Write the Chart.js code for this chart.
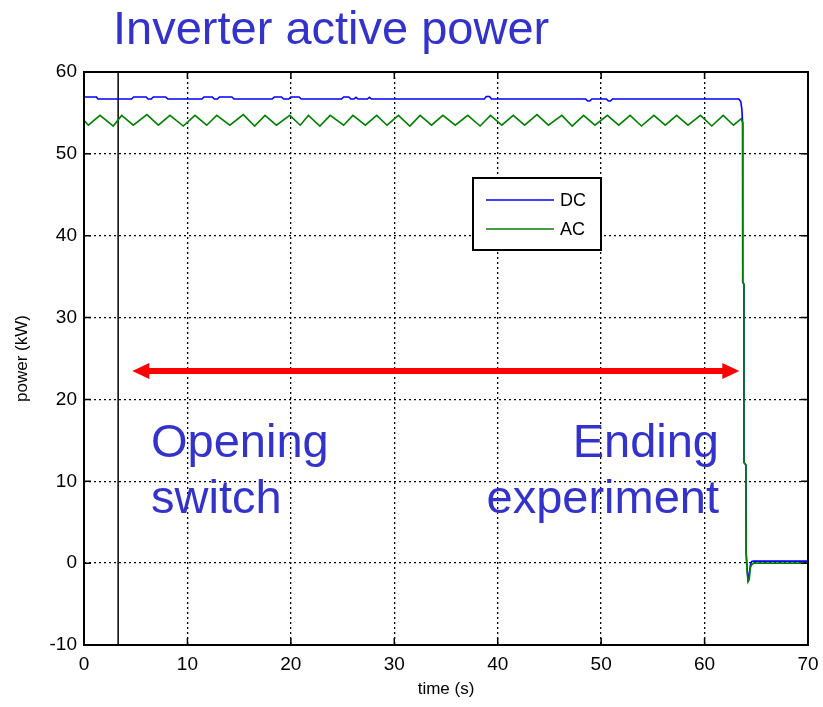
<!DOCTYPE html>
<html>
<head>
<meta charset="utf-8">
<title>Inverter active power</title>
<script src="https://cdn.jsdelivr.net/npm/chart.js@4.4.1/dist/chart.umd.min.js"></script>
<style>
  body { margin: 0; background: #fff; }
  canvas { display: block; }
</style>
</head>
<body>
<canvas id="chart" width="823" height="707"></canvas>
<script>
const chartTitle = 'Inverter active power'
const xTitle = 'time (s)'
const yTitle = 'power (kW)'
const xTicks = [0, 10, 20, 30, 40, 50, 60, 70]
const yTicks = [-10, 0, 10, 20, 30, 40, 50, 60]

// DC side power
const dcTime = [0, 1.2, 1.35, 4.6, 4.8, 6.0, 6.2, 6.5, 6.7, 7.9, 8.1, 11.4, 11.6, 12.4, 12.6, 12.9, 13.1, 14.3, 14.5,
  18.2, 18.4, 19.1, 19.3, 19.8, 20.0, 20.8, 21.0, 24.9, 25.1, 25.6, 25.8, 26.1, 26.3, 26.5, 27.4, 27.6, 27.8,
  38.7, 38.9, 39.2, 39.4, 48.5, 48.7, 48.9, 49.1, 50.5, 50.7, 50.9, 51.1, 63.3, 63.5, 63.6, 63.68, 63.69, 63.8,
  63.81, 64.0, 64.02, 64.12, 64.2, 64.32, 64.42, 64.55, 64.75, 70]
const dcPower = [56.95, 56.95, 56.7, 56.7, 56.95, 56.95, 56.7, 56.7, 56.95, 56.95, 56.7, 56.7, 56.95, 56.95, 56.7, 56.7, 56.95, 56.95, 56.7,
  56.7, 56.95, 56.95, 56.7, 56.7, 56.95, 56.95, 56.7, 56.7, 56.95, 56.95, 56.7, 56.7, 56.9, 56.7, 56.7, 56.9, 56.7,
  56.7, 57.0, 57.0, 56.7, 56.7, 56.45, 56.45, 56.7, 56.7, 56.45, 56.45, 56.7, 56.7, 56.4, 55.5, 53.8, 34.3, 34.1,
  12.3, 12.0, 1.3, -0.8, -1.9, -1.4, -0.3, 0.2, 0.25, 0.25]

// AC side power (ripple peaks and troughs, then the shutdown)
const acTime = [0, 0.42, 1.55, 2.83, 3.64, 4.77, 6.08, 7.19, 8.31, 9.6, 10.73, 11.86, 12.83, 14.1, 15.4, 16.5, 17.5,
  18.6, 19.9, 20.9, 21.7, 22.8, 23.8, 25.1, 26.0, 27.2, 28.3, 29.3, 30.4, 31.5, 32.5, 33.6, 34.7, 35.9, 37.1,
  38.3, 39.3, 40.4, 41.5, 42.6, 43.8, 44.9, 46.2, 47.2, 48.3, 49.4, 50.6, 51.7, 52.8, 53.9, 55.1, 56.2, 57.3,
  58.4, 59.6, 60.7, 61.8, 62.8, 63.55, 63.68, 63.69, 63.8, 63.81, 64.0, 64.02, 64.12, 64.2, 64.32, 64.42,
  64.55, 64.75, 70]
const acPower = [54.1, 53.5, 54.7, 53.4, 54.7, 53.5, 54.8, 53.5, 54.7, 53.4, 54.7, 53.5, 54.7, 53.5, 54.8, 53.4, 54.7,
  53.5, 54.7, 53.5, 54.7, 53.4, 54.7, 53.5, 54.7, 53.5, 54.7, 53.5, 54.7, 53.4, 54.7, 53.5, 54.7, 53.5, 54.7,
  53.4, 54.7, 53.5, 54.7, 53.5, 54.8, 53.5, 54.7, 53.4, 54.7, 53.5, 54.7, 53.5, 54.7, 53.4, 54.7, 53.5, 54.7,
  53.5, 54.7, 53.4, 54.7, 53.5, 54.3, 53.8, 34.3, 34.1, 12.3, 12.0, 1.2, -1.2, -2.3, -2.0, -0.6,
  -0.2, 0.0, 0.0]

const switchTime = 3.3
const arrowStart = 4.67
const arrowEnd = 63.36
const arrowLevel = 23.47

const blue = '#0000ff'
const green = '#008000'
const textBlue = '#3333cc'
const font = 'Arial, "Liberation Sans", Helvetica, sans-serif'

function toPoints(xs, ys) {
    return xs.map(function (x, i) { return { x: x, y: ys[i] } })
}

const decorations = {
    id: 'decorations',
    afterDatasetsDraw(chart) {
        const c = chart.ctx
        const area = chart.chartArea
        const xs = chart.scales.x
        const ys = chart.scales.y
        c.save()

        // arrow heads
        const ay = ys.getPixelForValue(arrowLevel)
        const lx = xs.getPixelForValue(arrowStart)
        const rx = xs.getPixelForValue(arrowEnd)
        c.fillStyle = '#ff0000'
        c.beginPath()
        c.moveTo(lx, ay); c.lineTo(lx + 17, ay - 8); c.lineTo(lx + 17, ay + 8); c.closePath()
        c.fill()
        c.beginPath()
        c.moveTo(rx, ay); c.lineTo(rx - 17, ay - 8); c.lineTo(rx - 17, ay + 8); c.closePath()
        c.fill()

        // frame and inward ticks
        c.strokeStyle = '#000'
        c.lineWidth = 2
        c.strokeRect(area.left, area.top, area.right - area.left, area.bottom - area.top)
        c.lineWidth = 1.5
        c.beginPath()
        xTicks.forEach(function (t) {
            const px = xs.getPixelForValue(t)
            c.moveTo(px, area.bottom); c.lineTo(px, area.bottom - 7)
            c.moveTo(px, area.top); c.lineTo(px, area.top + 7)
        })
        yTicks.forEach(function (t) {
            const py = ys.getPixelForValue(t)
            c.moveTo(area.left, py); c.lineTo(area.left + 7, py)
            c.moveTo(area.right, py); c.lineTo(area.right - 7, py)
        })
        c.stroke()

        // annotations
        c.fillStyle = textBlue
        c.font = '47px ' + font
        c.textBaseline = 'alphabetic'
        c.textAlign = 'left'
        c.fillText('Opening', 151, 457)
        c.fillText('switch', 151, 513)
        c.textAlign = 'right'
        c.fillText('Ending', 719, 457)
        c.fillText('experiment', 719, 513)

        // title
        c.textAlign = 'left'
        c.fillText(chartTitle, 113, 44)

        // legend
        c.fillStyle = '#fff'
        c.fillRect(473, 178, 128, 72)
        c.strokeStyle = '#000'
        c.lineWidth = 2
        c.strokeRect(473, 178, 128, 72)
        const entries = [['DC', blue, 200], ['AC', green, 229]]
        entries.forEach(function (e) {
            c.strokeStyle = e[1]
            c.lineWidth = 1.5
            c.beginPath(); c.moveTo(486, e[2]); c.lineTo(554, e[2]); c.stroke()
            c.fillStyle = '#000'
            c.font = '18px ' + font
            c.textAlign = 'left'
            c.textBaseline = 'middle'
            c.fillText(e[0], 560, e[2] + 1)
        })
        c.restore()
    }
}

const ctx = document.getElementById('chart').getContext('2d')

new Chart(ctx, {
    type: 'line',
    data: {
        datasets: [
            { label: 'AC', data: toPoints(acTime, acPower), borderColor: green, borderWidth: 1.6, pointRadius: 0, tension: 0 },
            { label: 'DC', data: toPoints(dcTime, dcPower), borderColor: blue, borderWidth: 1.6, pointRadius: 0, tension: 0 },
            { label: 'switch', data: [{ x: switchTime, y: yTicks[0] }, { x: switchTime, y: yTicks[yTicks.length - 1] }],
              borderColor: '#000', borderWidth: 1.5, pointRadius: 0 },
            { label: 'arrow', data: [{ x: arrowStart + 1, y: arrowLevel }, { x: arrowEnd - 1, y: arrowLevel }],
              borderColor: '#ff0000', borderWidth: 6, pointRadius: 0 }
        ]
    },
    options: {
        responsive: false,
        animation: false,
        layout: { padding: { left: 0, top: 72, right: 15, bottom: 0 } },
        plugins: { legend: { display: false }, tooltip: { enabled: false } },
        scales: {
            x: {
                type: 'linear',
                min: xTicks[0],
                max: xTicks[xTicks.length - 1],
                afterBuildTicks(scale) { scale.ticks = xTicks.map(function (v) { return { value: v } }) },
                afterFit(scale) {
                    scale.height = 62
                    scale.paddingLeft = 0
                    scale.paddingRight = 0
                },
                ticks: { color: '#000', font: { family: font, size: 19 }, padding: 8, maxRotation: 0 },
                grid: {
                    drawTicks: false,
                    lineWidth: 1.3,
                    color: function (c) {
                        return (c.tick && (c.tick.value === 0 || c.tick.value === 70)) ? 'rgba(0,0,0,0)' : '#000'
                    }
                },
                border: { display: false, dash: [2, 3] },
                title: { display: true, text: xTitle, color: '#000', font: { family: font, size: 17 }, padding: { top: 0, bottom: 7 } }
            },
            y: {
                min: yTicks[0],
                max: yTicks[yTicks.length - 1],
                afterBuildTicks(scale) { scale.ticks = yTicks.map(function (v) { return { value: v } }) },
                afterFit(scale) {
                    scale.width = 84
                    scale.paddingTop = 0
                    scale.paddingBottom = 0
                },
                ticks: { color: '#000', font: { family: font, size: 19 }, padding: 7 },
                grid: {
                    drawTicks: false,
                    lineWidth: 1.3,
                    color: function (c) {
                        return (c.tick && (c.tick.value === -10 || c.tick.value === 60)) ? 'rgba(0,0,0,0)' : '#000'
                    }
                },
                border: { display: false, dash: [2, 3] },
                title: { display: true, text: yTitle, color: '#000', font: { family: font, size: 17 }, padding: { top: 12, bottom: 0 } }
            }
        }
    },
    plugins: [decorations]
})
</script>
</body>
</html>
